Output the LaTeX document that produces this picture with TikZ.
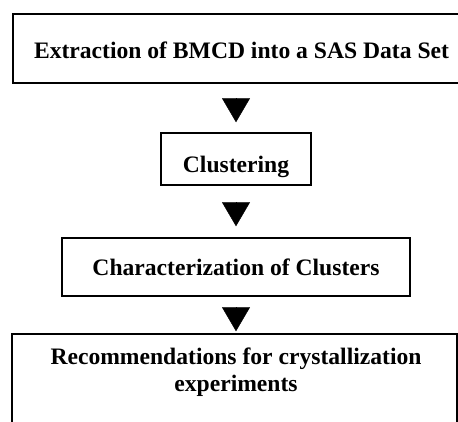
\documentclass[tikz,border=0pt]{standalone}
\usepackage{fontspec}
\setmainfont{Liberation Serif}
\usetikzlibrary{arrows.meta}
\tikzset{
  stepbox/.style={draw, line width=1.5pt, inner sep=0pt},
  steptext/.style={font=\fontsize{23.6}{27}\selectfont\bfseries, inner sep=0pt, align=center}
  }
\tikzstyle{flow} = [draw, line width=0.4pt, -{Triangle[width=28pt,length=24pt]}]

\begin{document}
\begin{tikzpicture}[x=1pt,y=-1pt]
   \useasboundingbox (0,0) rectangle (458,421);

   % the four steps (outer ones run off the page)
   \node[stepbox, minimum width=456pt, minimum height=69pt] (extract) at (241,48.5) {};
   \node[stepbox, minimum width=150pt, minimum height=52pt] (clus) at (236,159) {};
   \node[stepbox, minimum width=348pt, minimum height=58pt] (chars) at (236,267) {};
   \node[stepbox, minimum width=445pt, minimum height=116pt] (recom) at (234.5,392) {};

   \node[steptext, anchor=base] (extracttxt) at (241.5,58) {Extraction of BMCD into a SAS Data Set};
   \node[steptext, anchor=base] (clustxt) at (236,172) {Clustering};
   \node[steptext, anchor=base] (charstxt) at (236,275) {Characterization of Clusters};
   \node[steptext] (recomtxt) at (236,372) {Recommendations for crystallization\\experiments};

   \path[flow, shorten <=16pt, shorten >=10pt] (extract.south -| clus.north) -- (clus.north);
   \path[flow, shorten <=18pt, shorten >=11pt] (clus) -- (chars);
   \path[flow, shorten <=12pt, shorten >=2pt] (chars) -- (chars.south |- recom.north);
\end{tikzpicture}
\end{document}
